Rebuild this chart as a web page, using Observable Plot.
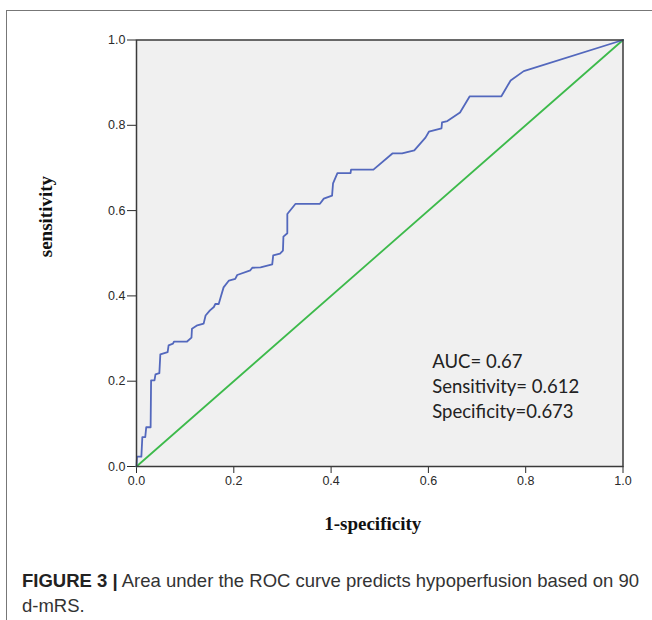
<!DOCTYPE html>
<html>
<head>
<meta charset="utf-8">
<script src="https://cdn.jsdelivr.net/npm/d3@7"></script>
<script src="https://cdn.jsdelivr.net/npm/@observablehq/plot@0.6"></script>
<style>
  html, body { margin: 0; padding: 0; background: #fff; }
  #page { position: relative; width: 652px; height: 620px; overflow: hidden; }
  #box { position: absolute; left: 6px; top: 10px; width: 720px; height: 700px;
         border-left: 1.5px solid #777; border-top: 1.5px solid #777; }
  #chart { position: absolute; left: 0; top: 0; }
  #caption { position: absolute; left: 22px; top: 568px; width: 622px;
             font-family: "Liberation Sans", Arial, sans-serif; font-size: 18.5px;
             line-height: 25px; color: #333; letter-spacing: 0; }
  #caption b { color: #222; }
  .nw { white-space: nowrap; }
</style>
</head>
<body>
<div id="page">
  <div id="box"></div>
  <div id="chart"></div>
  <div id="caption"><b>FIGURE 3 |</b> Area under the ROC curve predicts hypoperfusion based on 90 <span class="nw">d-mRS.</span></div>
</div>
<script>
// ROC curve (1-specificity, sensitivity)
const fpr = [0, 0.001, 0.010, 0.012, 0.018, 0.020, 0.029, 0.030, 0.037, 0.039, 0.047, 0.049,
  0.064, 0.066, 0.075, 0.077, 0.104, 0.113, 0.114, 0.125, 0.138, 0.142, 0.151, 0.159, 0.162,
  0.169, 0.173, 0.179, 0.190, 0.203, 0.207, 0.234, 0.238, 0.255, 0.279, 0.281, 0.295, 0.301,
  0.302, 0.310, 0.310, 0.327, 0.377, 0.385, 0.402, 0.404, 0.413, 0.440, 0.441, 0.487, 0.526,
  0.546, 0.571, 0.594, 0.601, 0.627, 0.628, 0.639, 0.665, 0.685, 0.750, 0.769, 0.796, 1.0];
const tpr = [0, 0.023, 0.023, 0.069, 0.069, 0.092, 0.092, 0.202, 0.202, 0.216, 0.219, 0.263,
  0.268, 0.284, 0.288, 0.293, 0.293, 0.302, 0.323, 0.331, 0.335, 0.354, 0.366, 0.374, 0.381,
  0.381, 0.397, 0.420, 0.436, 0.440, 0.449, 0.460, 0.466, 0.467, 0.474, 0.495, 0.499, 0.506,
  0.539, 0.547, 0.592, 0.616, 0.616, 0.628, 0.635, 0.664, 0.688, 0.688, 0.696, 0.696, 0.734,
  0.734, 0.741, 0.771, 0.785, 0.793, 0.807, 0.810, 0.830, 0.868, 0.868, 0.905, 0.927, 1.0];
// Reference (chance) line
const refX = [0, 1];
const refY = [0, 1];
// Tick values
const ticks = [0, 0.2, 0.4, 0.6, 0.8, 1.0];
// Annotation text and its placement (data units)
const noteLines = ["AUC= 0.67", "Sensitivity= 0.612", "Specificity=0.673"];
const noteX = [0.608, 0.608, 0.608];
const noteY = [0.245, 0.186, 0.127];

const roc = fpr.map((x, i) => ({x, y: tpr[i]}));
const ref = refX.map((x, i) => ({x, y: refY[i]}));
const notes = noteLines.map((t, i) => ({t, x: noteX[i], y: noteY[i]}));

const chart = Plot.plot({
  width: 652,
  height: 560,
  marginLeft: 136,
  marginRight: 29.5,
  marginTop: 39.5,
  marginBottom: 94,
  x: {domain: [0, 1]},
  y: {domain: [0, 1]},
  style: {fontFamily: "Liberation Sans, Arial, sans-serif", background: "transparent"},
  marks: [
    Plot.frame({fill: "#f0f0f0", stroke: "none"}),
    Plot.axisX({ticks, tickFormat: d3.format(".1f"), tickSize: 7, tickPadding: 3,
      fontSize: 12.5, color: "#2a2a2a", label: null}),
    Plot.axisY({ticks, tickFormat: d3.format(".1f"), tickSize: 9, tickPadding: 2,
      fontSize: 12.5, color: "#2a2a2a", label: null}),
    Plot.line(ref, {x: "x", y: "y", stroke: "#3dba4b", strokeWidth: 1.8}),
    Plot.line(roc, {x: "x", y: "y", stroke: "#5368bd", strokeWidth: 1.8, strokeLinejoin: "round"}),
    Plot.frame({stroke: "#3a3a3a", strokeWidth: 1.5}),
    Plot.text(notes, {x: "x", y: "y", text: "t", textAnchor: "start", fontSize: 18.5,
      fontFamily: "Lato, sans-serif", fill: "#222"}),
    Plot.text(["1-specificity"], {frameAnchor: "bottom", text: d => d, dy: 63, dx: -7,
      fontSize: 19, fontWeight: "bold", fontFamily: "Liberation Serif, serif", fill: "#111"}),
    Plot.text(["sensitivity"], {frameAnchor: "left", text: d => d, dx: -91, dy: 4, rotate: -90,
      fontSize: 19, fontWeight: "bold", fontFamily: "Liberation Serif, serif", fill: "#111"})
  ]
});
document.getElementById("chart").appendChild(chart);
</script>
</body>
</html>
